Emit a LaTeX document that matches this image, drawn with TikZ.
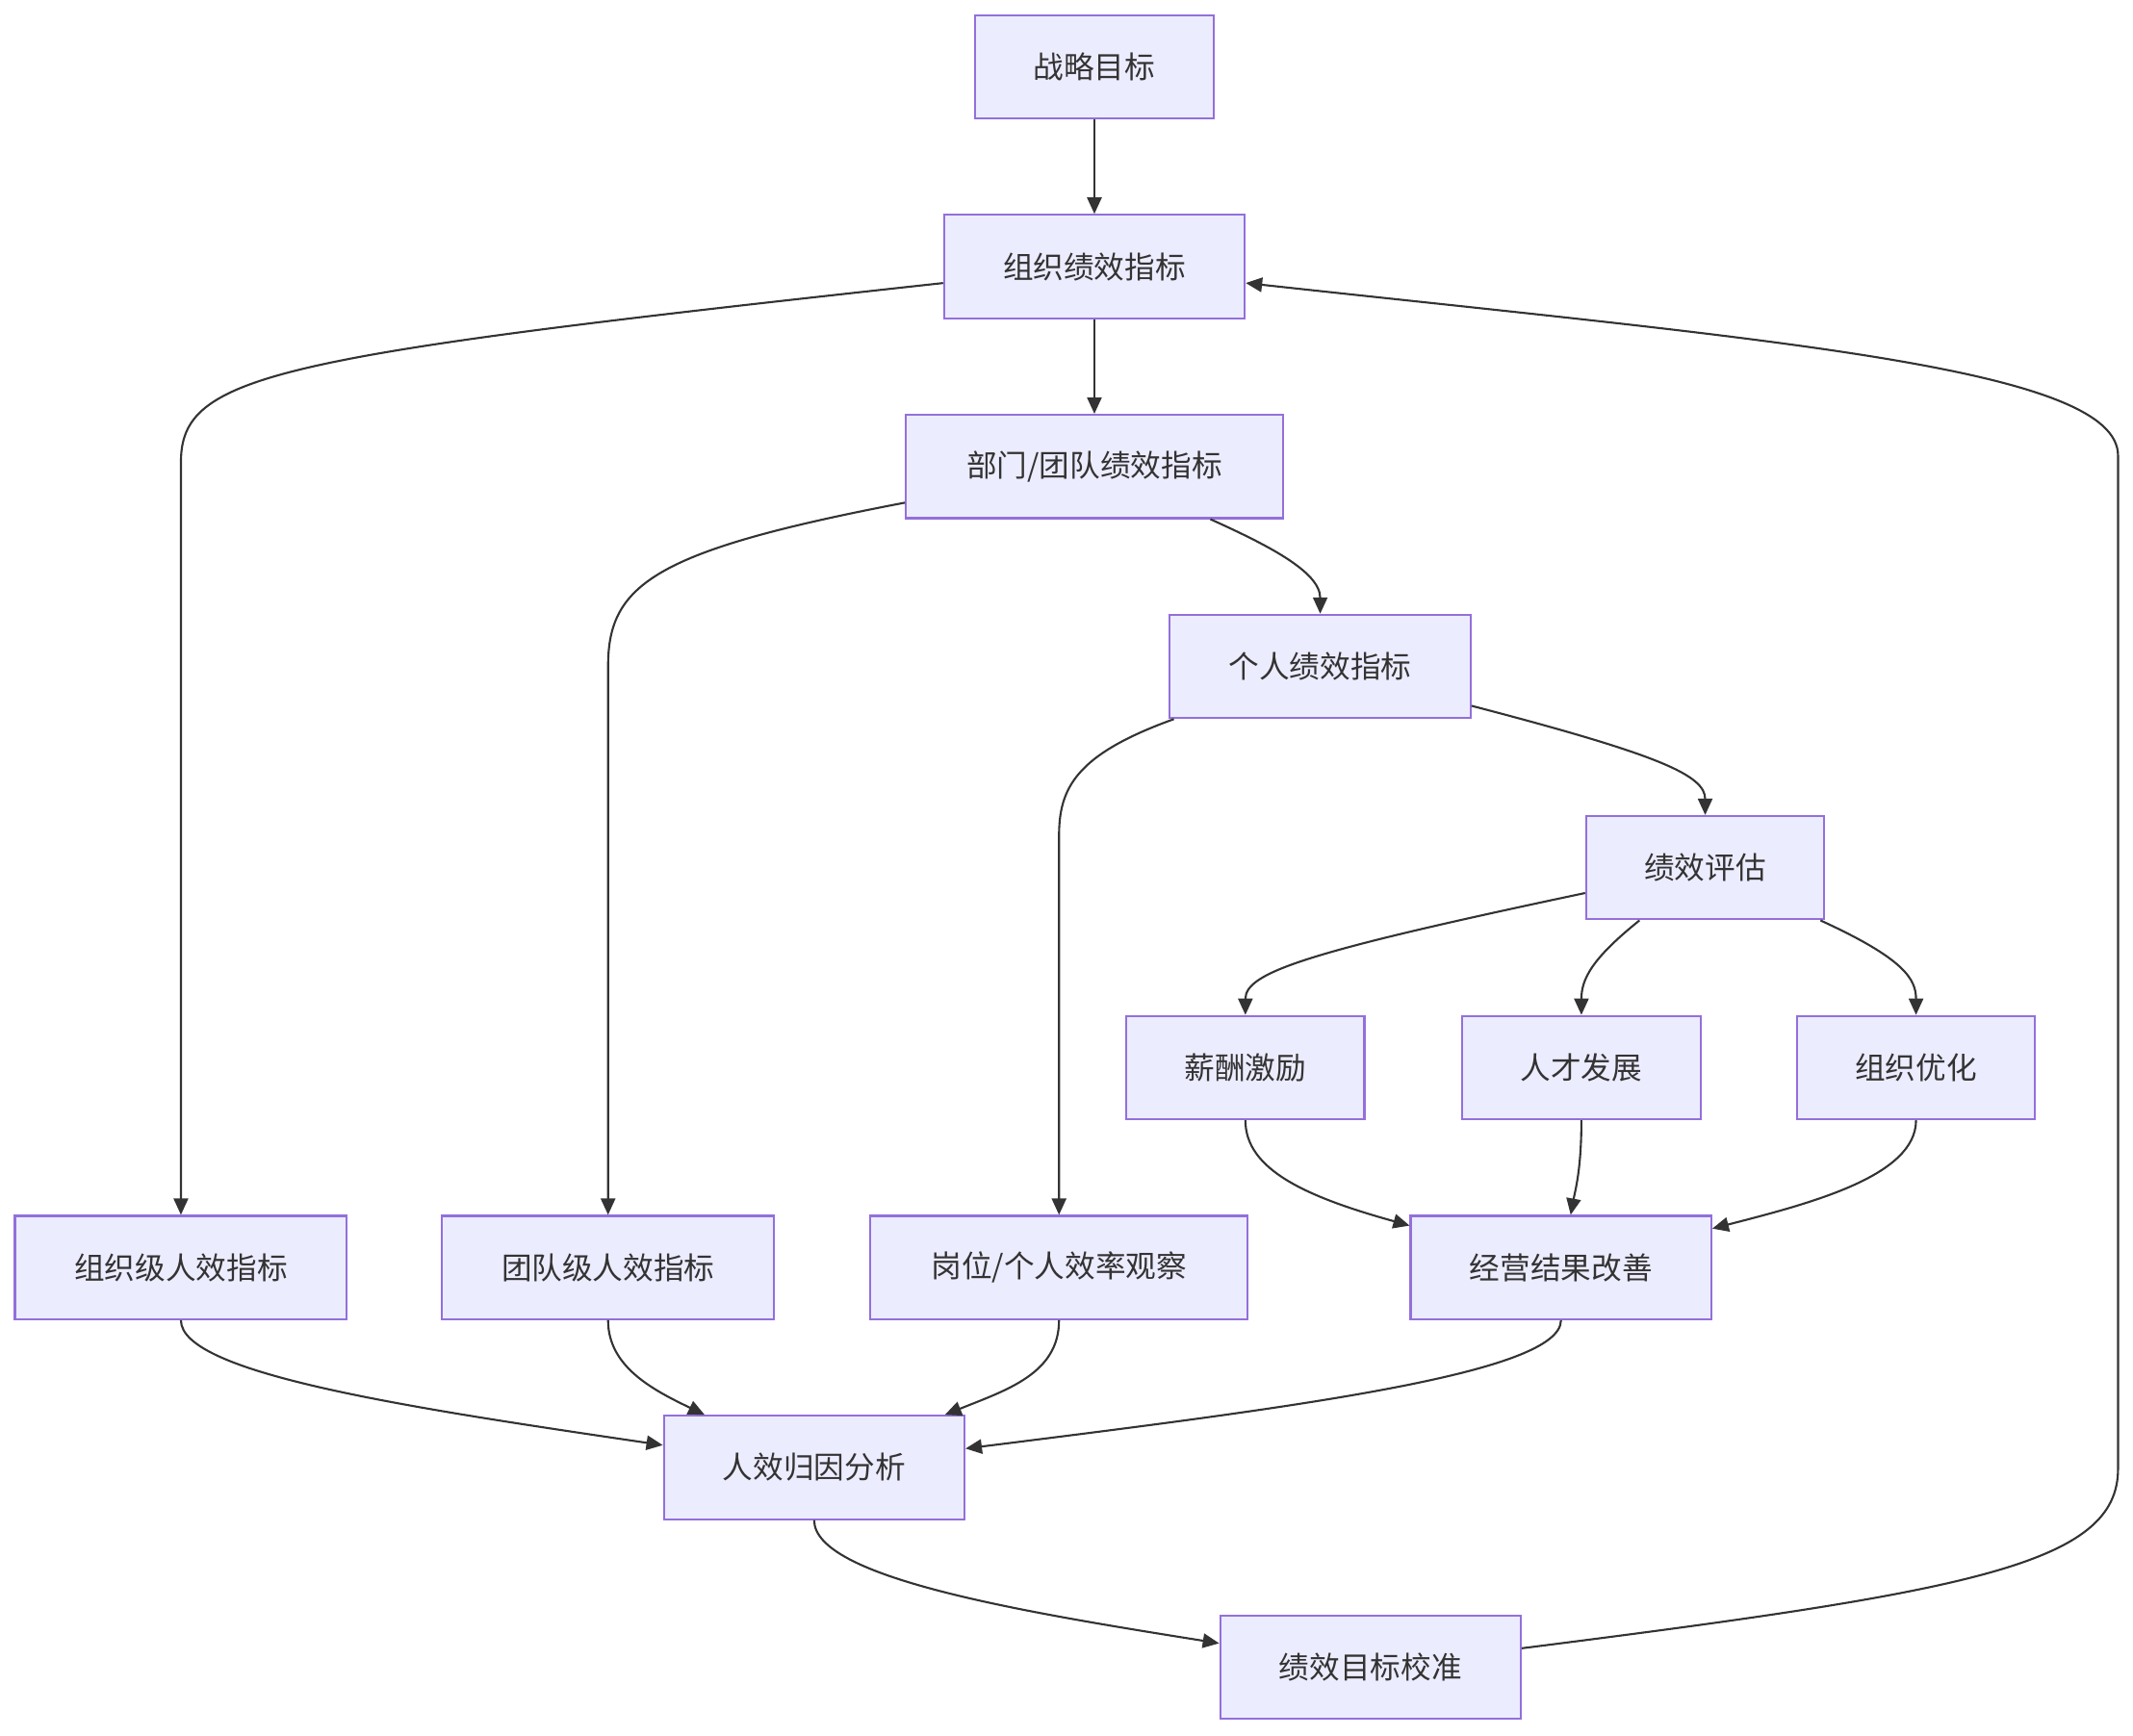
\documentclass[tikz,border=0pt]{standalone}
\usepackage{fontspec}
\newfontfamily\cjk{Noto Sans CJK SC}
\usepackage{tikz}
\usetikzlibrary{arrows.meta,positioning,calc}
\usepackage{xcolor}
\definecolor{nodefill}{HTML}{ECECFF}
\definecolor{nodeline}{HTML}{9370DB}
\definecolor{edgegray}{HTML}{333333}

\begin{document}
\begin{tikzpicture}[x=0.014133cm,y=-0.014133cm,
    box/.style={draw=nodeline,fill=nodefill,line width=0.6pt,minimum height=1.074cm,
                inner sep=0pt,font=\cjk\fontsize{9}{11}\selectfont,text=edgegray,align=center},
    flow/.style={draw=edgegray,line width=0.6pt,-{Triangle[length=0.17cm,width=0.15cm]}}]

    \useasboundingbox (0,0) rectangle (1568,1276);

    \node[box,minimum width=2.473cm] (goal) at (804.5,49) {战略目标};
    \node[box,minimum width=3.123cm] (org) at (804.5,196) {组织绩效指标};
    \node[box,minimum width=3.915cm] (dept) at (804.5,343) {部门/团队绩效指标};
    \node[box,minimum width=3.123cm] (ind) at (970.5,490) {个人绩效指标};
    \node[box,minimum width=2.473cm] (eval) at (1253.5,638) {绩效评估};
    \node[box,minimum width=2.473cm] (pay) at (915.5,785) {薪酬激励};
    \node[box,minimum width=2.473cm] (talent) at (1162.5,785) {人才发展};
    \node[box,minimum width=2.473cm] (orgopt) at (1408.5,785) {组织优化};
    \node[box,minimum width=3.448cm] (orgeff) at (133,932) {组织级人效指标};
    \node[box,minimum width=3.448cm] (teameff) at (447,932) {团队级人效指标};
    \node[box,minimum width=3.915cm] (post) at (778.5,932) {岗位/个人效率观察};
    \node[box,minimum width=3.123cm] (biz) at (1147.5,932) {经营结果改善};
    \node[box,minimum width=3.123cm] (attr) at (598.5,1079) {人效归因分析};
    \node[box,minimum width=3.123cm] (calib) at (1007.5,1226) {绩效目标校准};

    \draw[flow] (goal) -- (org);
    \draw[flow] (org) -- (dept);
    \draw[flow] (org) .. controls (200,262) and (133,275) .. (133,340) -- (orgeff);
    \draw[flow] (dept) .. controls (480,405) and (447,430) .. (447,490) -- (teameff);
    \draw[flow] (dept) .. controls (930,400) and (970.5,420) .. (ind);
    \draw[flow] (ind) .. controls (790,555) and (778.5,580) .. (778.5,615) -- (post);
    \draw[flow] (ind) .. controls (1220,555) and (1253.5,570) .. (eval);
    \draw[flow] (eval) .. controls (960,700) and (915.5,715) .. (pay);
    \draw[flow] (eval) .. controls (1170,705) and (1162.5,720) .. (talent);
    \draw[flow] (eval) .. controls (1400,705) and (1408.5,720) .. (orgopt);
    \draw[flow] (pay) .. controls (915.5,860) and (960,880) .. (biz);
    \draw[flow] (talent) .. controls (1162.5,860) and (1158,875) .. (biz);
    \draw[flow] (orgopt) .. controls (1408.5,865) and (1330,885) .. (biz);
    \draw[flow] (orgeff) .. controls (133,1010) and (300,1035) .. (attr);
    \draw[flow] (teameff) .. controls (447,1005) and (480,1022) .. (attr);
    \draw[flow] (post) .. controls (778.5,1010) and (740,1022) .. (attr);
    \draw[flow] (biz) .. controls (1147.5,1010) and (950,1035) .. (attr);
    \draw[flow] (attr) .. controls (598.5,1160) and (750,1185) .. (calib);
    \draw[flow] (calib) .. controls (1450,1170) and (1557,1150) .. (1557,1080)
      -- (1557,335) .. controls (1557,270) and (1300,250) .. (org);
  \end{tikzpicture}
\end{document}
